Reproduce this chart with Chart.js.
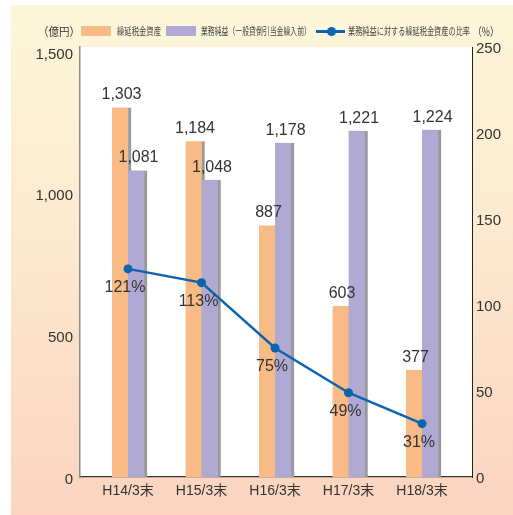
<!DOCTYPE html>
<html lang="ja">
<head>
<meta charset="utf-8">
<script src="https://cdn.jsdelivr.net/npm/chart.js@4/dist/chart.umd.min.js"></script>
<style>
  body { margin: 0; background: #fff; }
  #wrap { position: relative; width: 513px; height: 515px; background: #fff; }
  #bg {
    position: absolute; left: 11px; top: 5px; right: 0; bottom: 0;
    background: linear-gradient(to bottom, #fdf7da 0%, #fde9cf 45%, #fad4c0 100%);
  }
  #chart { position: absolute; left: 0; top: 0; }
  .lg {
    position: absolute; white-space: nowrap; color: #444;
    font-family: "Noto Sans CJK JP", sans-serif; font-size: 10px; line-height: 12px;
    transform-origin: left center;
  }
  .unit { font-size: 11.5px; color: #333; }
  .sw { position: absolute; width: 30px; height: 10px; }
</style>
</head>
<body>
<div id="wrap">
  <div id="bg"></div>
  <canvas id="chart" width="513" height="515"></canvas>
  <!-- 凡例 -->
  <span class="lg unit" style="left:38px; top:25px" data-w="42">（億円）</span>
  <div class="sw" style="left:81px; top:26px; background:#f9bb85"></div>
  <span class="lg" style="left:117px; top:25px" data-w="44">繰延税金資産</span>
  <div class="sw" style="left:166px; top:26px; background:#b0a9d4"></div>
  <span class="lg" style="left:201px; top:25px" data-w="110">業務純益（一般貸倒引当金繰入前）</span>
  <div style="position:absolute; left:316px; top:30px; width:29px; height:2.5px; background:#0c63b1"></div>
  <div style="position:absolute; left:327px; top:26.5px; width:9px; height:9px; border-radius:50%; background:#0c63b1"></div>
  <span class="lg" style="left:348px; top:25px" data-w="122">業務純益に対する繰延税金資産の比率</span>
  <span class="lg unit" style="left:473px; top:25px" data-w="26">（%）</span>
</div>
<script>
// ============================================================
//  DONNÉES
// ============================================================
const categories   = ['H14/3末', 'H15/3末', 'H16/3末', 'H17/3末', 'H18/3末'];
const taxAssets    = [1303, 1184, 887, 603, 377];      // 繰延税金資産 (億円)
const coreProfit   = [1081, 1048, 1178, 1221, 1224];   // 業務純益 (億円)
const assetRatio   = [121, 113, 75, 49, 31];           // 比率 (%)
const leftTicks    = [0, 500, 1000, 1500];
const rightTicks   = [0, 50, 100, 150, 200, 250];

// legend texts are condensed to fixed widths
document.querySelectorAll('.lg[data-w]').forEach((el) => {
  el.style.transform = 'scaleX(' + (el.dataset.w / el.offsetWidth) + ')';
});

// x range: group centres 73.5px apart, first one 48px from the left axis
const X_MIN = -0.653, X_MAX = 4.68;
const ORANGE_SHIFT = 6.5 / 73.5;   // orange bar sits left of the centre
const PURPLE_SHIFT = -9.5 / 73.5;  // purple bar sits right of the centre

const numFont = '"Liberation Sans", Arial, "Noto Sans CJK JP", sans-serif';

const plotBackground = {
  id: 'plotBackground',
  beforeDraw(chart) {
    const { ctx, chartArea: a } = chart;
    ctx.save();
    ctx.fillStyle = '#fff';
    ctx.fillRect(a.left, a.top, a.right - a.left, a.bottom - a.top);
    ctx.restore();
  }
};

const valueLabels = {
  id: 'valueLabels',
  afterDatasetsDraw(chart) {
    const ctx = chart.ctx;
    ctx.save();
    ctx.fillStyle = '#333';
    ctx.font = '16px ' + numFont;
    ctx.textAlign = 'center';
    chart.data.datasets.forEach((ds, di) => {
      chart.getDatasetMeta(di).data.forEach((el, i) => {
        const v = ds.data[i].y;
        if (ds.type === 'line') {
          ctx.textBaseline = 'middle';
          ctx.fillText(v + '%', el.x - 3, el.y + 19);
        } else {
          ctx.textBaseline = 'alphabetic';
          ctx.fillText(v.toLocaleString('en-US'), el.x + (ds.labelShift || 0), el.y - 8);
        }
      });
    });
    ctx.restore();
  }
};

const toPoints = (arr) => arr.map((v, i) => ({ x: i, y: v }));

// hidden axes that only place the two bar series
const barAxis = (shift) => ({
  type: 'linear', display: false, offset: false,
  grid: { offset: false },
  min: X_MIN + shift, max: X_MAX + shift
});

new Chart(document.getElementById('chart').getContext('2d'), {
  data: {
    datasets: [
      {
        type: 'line',
        label: '業務純益に対する繰延税金資産の比率',
        data: toPoints(assetRatio),
        xAxisID: 'x',
        yAxisID: 'y1',
        order: 0,
        borderColor: '#0c63b1',
        backgroundColor: '#0c63b1',
        borderWidth: 2.5,
        pointRadius: 4.5,
        pointBackgroundColor: '#0c63b1',
        pointBorderWidth: 0,
        tension: 0
      },
      {
        type: 'bar',
        label: '業務純益（一般貸倒引当金繰入前）',
        data: toPoints(coreProfit),
        xAxisID: 'xp',
        yAxisID: 'y',
        order: 1,
        grouped: false,
        backgroundColor: '#b0a9d4',
        borderColor: '#999',
        borderWidth: { top: 0, right: 3, bottom: 0, left: 0 },
        borderSkipped: false,
        barThickness: 19,
        labelShift: 1
      },
      {
        type: 'bar',
        label: '繰延税金資産',
        data: toPoints(taxAssets),
        xAxisID: 'xo',
        yAxisID: 'y',
        order: 2,
        grouped: false,
        backgroundColor: '#f9bb85',
        borderColor: '#999',
        borderWidth: { top: 0, right: 3, bottom: 0, left: 0 },
        borderSkipped: false,
        barThickness: 19
      }
    ]
  },
  options: {
    responsive: false,
    animation: false,
    events: [],
    layout: { padding: { top: 47, left: 0, right: 0, bottom: 0 } },
    plugins: { legend: { display: false }, tooltip: { enabled: false } },
    scales: {
      x: {
        type: 'linear', position: 'bottom', offset: false,
        min: X_MIN, max: X_MAX,
        afterBuildTicks: (s) => { s.ticks = categories.map((_, i) => ({ value: i })); },
        afterFit: (s) => { s.height = 38; },
        grid: { display: false, drawTicks: false },
        border: { display: true, color: '#333', width: 1.2 },
        ticks: {
          padding: 6,
          color: '#333',
          font: { family: numFont, size: 14 },
          callback: (v) => categories[v]
        }
      },
      xo: barAxis(ORANGE_SHIFT),
      xp: barAxis(PURPLE_SHIFT),
      y: {
        type: 'linear', position: 'left',
        min: 0, max: 1516,
        afterBuildTicks: (s) => { s.ticks = leftTicks.map((v) => ({ value: v })); },
        afterFit: (s) => { s.width = 80; },
        grid: { display: false, drawTicks: false },
        border: { display: true, color: '#8c8c8c', width: 1.5 },
        ticks: {
          padding: 7,
          labelOffset: 3,
          color: '#333',
          font: { family: numFont, size: 15 },
          callback: (v) => v.toLocaleString('en-US')
        }
      },
      y1: {
        type: 'linear', position: 'right',
        min: 0, max: 250,
        afterBuildTicks: (s) => { s.ticks = rightTicks.map((v) => ({ value: v })); },
        afterFit: (s) => { s.width = 41; },
        grid: { display: false, drawTicks: false },
        border: { display: true, color: '#222', width: 1 },
        ticks: {
          padding: 4,
          labelOffset: 2,
          color: '#333',
          font: { family: numFont, size: 15 }
        }
      }
    }
  },
  plugins: [plotBackground, valueLabels]
});
</script>
</body>
</html>
